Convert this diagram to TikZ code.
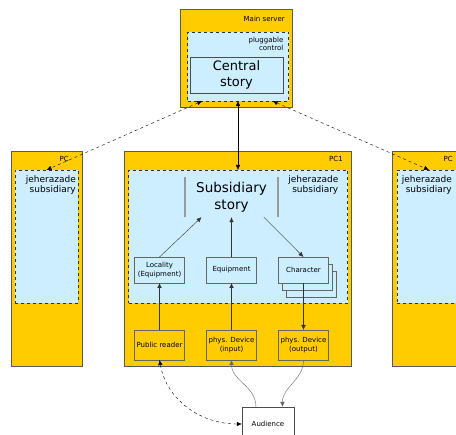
\documentclass[tikz,border=0pt]{standalone}
\usepackage{fontspec}
\setmainfont{DejaVu Sans}
\usetikzlibrary{positioning,arrows.meta,shadows}
\definecolor{hostyellow}{HTML}{FFCC00}
\definecolor{storyblue}{HTML}{CCEEFF}

\begin{document}
\begin{tikzpicture}[x=1pt,y=1pt,
  host/.style={rectangle,draw=black!65,fill=hostyellow,line width=0.8pt,inner sep=0,outer sep=0},
  shell/.style={rectangle,draw=black!80,dashed,fill=storyblue,inner sep=0,outer sep=0},
  part/.style={rectangle,draw=black!60,fill=storyblue,minimum width=50pt,minimum height=26pt,
    inner sep=0,outer sep=0,align=center,font=\fontsize{7}{9}\selectfont},
  dev/.style={part,fill=hostyellow,minimum height=30pt},
  tag/.style={inner sep=0,align=right,font=\fontsize{7}{8}\selectfont},
  owner/.style={inner sep=0,align=right,font=\fontsize{9}{10}\selectfont},
  >={Latex[length=5pt,width=4.5pt]}]
 \useasboundingbox (0,0) rectangle (456,435);

 % main server with the central story
 \node[host,minimum width=112pt,minimum height=98pt] (server) at (236,377) {};
 \node[shell,minimum width=101pt,minimum height=69pt] (control) at (238,368.5) {};
 \node[tag] (servername) [below left=7pt and 7pt of server.north east] {Main server};
 \node[tag] (controlname) [below left=5pt and 5pt of control.north east] {pluggable\\control};
 \node[rectangle,draw=black!70,fill=storyblue,minimum width=93pt,minimum height=36pt,
   align=center,font=\fontsize{13}{16}\selectfont] (central) at (236.5,360) {Central\\story};

 % the PCs
 \node[host,minimum width=71pt,minimum height=215pt] (pcleft) at (46.5,176.5) {};
 \node[shell,minimum width=63pt,minimum height=133pt] (pcleftinner) at (46.5,198.5) {};
 \node[host,minimum width=227pt,minimum height=215pt] (pcone) at (237.5,176.5) {};
 \node[shell,minimum width=219pt,minimum height=133pt] (pconeinner) at (238,198.5) {};
 \node[host,minimum width=72pt,minimum height=215pt] (pcright) at (428,176.5) {};
 \node[shell,minimum width=64pt,minimum height=133pt] (pcrightinner) at (429,198.5) {};

 \node[tag] (pcleftname) [below left=5pt and 13pt of pcleft.north east] {PC};
 \node[tag] (pconename) [below left=5pt and 8pt of pcone.north east] {PC1};
 \node[tag] (pcrightname) [below left=5pt and 11pt of pcright.north east] {PC};
 \node[owner] (ownerleft) [below left=5pt and 2pt of pcleftinner.north east] {jeherazade\\subsidiary};
 \node[owner] (ownerone) [below left=5pt and 9pt of pconeinner.north east] {jeherazade\\subsidiary};
 \node[owner] (ownerright) [below left=5pt and 9pt of pcrightinner.north east] {jeherazade\\subsidiary};

 % subsidiary story and its parts
 \node[inner sep=0,minimum width=93pt,minimum height=40pt,align=center,
   font=\fontsize{13.5}{17}\selectfont] (story) at (231.5,238) {Subsidiary\\story};
 \draw[black!40,line width=1.5pt] (story.north west) -- (story.south west)
   (story.north east) -- (story.south east);

 \node[part] (equipment) at (231.5,165) {Equipment};
 \node[part] (locality) [left=22pt of equipment] {Locality\\(Equipment)};
 \node[part,double copy shadow={shadow xshift=4pt,shadow yshift=-7pt}] (character) [right=22pt of equipment] {Character};

 \node[dev] (input) [below=47pt of equipment] {phys. Device\\(input)};
 \node[dev] (reader) [left=22pt of input] {Public reader};
 \node[dev] (output) [right=22pt of input] {phys. Device\\(output)};

 \node[rectangle,draw=black!70,fill=white,minimum width=52pt,minimum height=34pt,
   font=\fontsize{7}{8}\selectfont] (audience) at (268,11) {Audience};

 % server <-> PCs
 \draw[<->,dashed] (control.224) -- (pcleftinner.north);
 \draw[<->] (control.south) -- (pconeinner.north);
 \draw[<->,dashed] (control.315) -- (pcrightinner.north);

 \draw[->,black!80] (locality.north) -- (story.214);
 \draw[->,black!80] (equipment.north) -- (story.south);
 \draw[->,black!80] (story.328) -- (character.north);

 \draw[->,black!80] (reader.north) -- (locality.south);
 \draw[->,black!80] (input.north) -- (equipment.south);
 \draw[->,black!80] (character.south) -- (output.north);

 % audience
 \draw[<->,dashed] (reader.south) to[out=-80,in=180] (audience.west);
 \draw[->,black!60] (audience.125) to[out=90,in=-90] (input.south);
 \draw[->,black!60] (output.south) to[out=-90,in=90] (audience.50);
\end{tikzpicture}
\end{document}
